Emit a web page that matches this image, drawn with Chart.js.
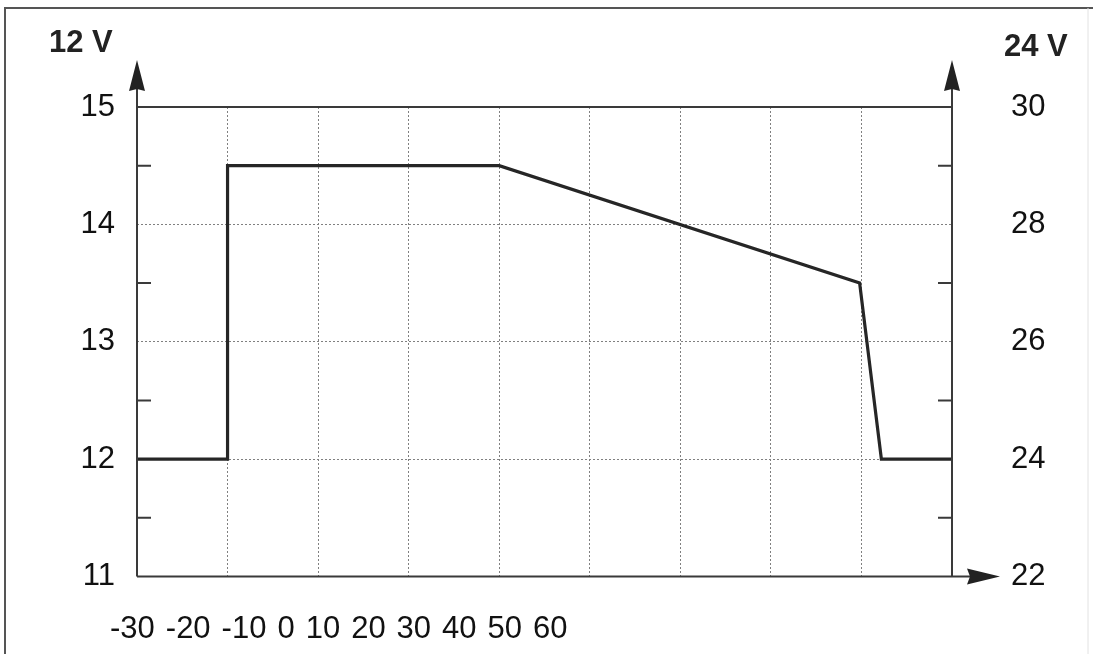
<!DOCTYPE html>
<html>
<head>
<meta charset="utf-8">
<script src="https://cdn.jsdelivr.net/npm/chart.js@4.4.0/dist/chart.umd.min.js"></script>
<style>
html, body { margin: 0; padding: 0; background: #fff; }
#wrap { width: 1093px; height: 654px; position: relative; }
</style>
</head>
<body>
<div id="wrap"><canvas id="chart"></canvas></div>
<script>
// temperature (deg C) vs charge voltage
const tempC = [-30, -20, -20, 10, 49.8, 52.2, 60];
const volt12 = [12, 12, 14.5, 14.5, 13.5, 12, 12];

const xTickLabels = ['-30', '-20', '-10', '0', '10', '20', '30', '40', '50', '60'];
const leftTicks = [11, 12, 13, 14, 15];
const rightTicks = [22, 24, 26, 28, 30];
const minorTicks = [11.5, 12.5, 13.5, 14.5];
const leftTitle = '12 V';
const rightTitle = '24 V';

const FONT = "'Liberation Sans', Arial, sans-serif";
const INK = '#222';
const AXIS = '#3a3a3a';

// axes, arrows, minor ticks, titles and the odd x label row
const decorPlugin = {
    id: 'decor',
    afterDraw(chart) {
        const ctx = chart.ctx;
        const x = chart.scales.x, y = chart.scales.y;
        const left = x.getPixelForValue(x.min);
        const right = x.getPixelForValue(x.max);
        const bottom = y.getPixelForValue(y.min);
        const top = y.getPixelForValue(y.max);
        ctx.save();

        // frame round the picture
        ctx.strokeStyle = '#555';
        ctx.lineWidth = 2;
        ctx.beginPath();
        ctx.moveTo(5, 654);
        ctx.lineTo(5, 8);
        ctx.lineTo(1093, 8);
        ctx.stroke();
        ctx.strokeStyle = '#e2e2e2';
        ctx.lineWidth = 1;
        ctx.beginPath();
        ctx.moveTo(1088, 8);
        ctx.lineTo(1088, 654);
        ctx.stroke();

        ctx.strokeStyle = AXIS;
        ctx.fillStyle = INK;
        ctx.lineWidth = 2;
        ctx.beginPath();
        // left and right vertical axes
        ctx.moveTo(left, 88); ctx.lineTo(left, bottom);
        ctx.moveTo(right, 88); ctx.lineTo(right, bottom);
        // bottom axis, running out to the arrow
        ctx.moveTo(left, bottom); ctx.lineTo(972, bottom);
        // top line at 15
        ctx.moveTo(left, top); ctx.lineTo(right, top);
        // minor ticks pointing inward
        minorTicks.forEach(v => {
            const py = y.getPixelForValue(v);
            ctx.moveTo(left, py); ctx.lineTo(left + 14, py);
            ctx.moveTo(right, py); ctx.lineTo(right - 14, py);
        });
        ctx.stroke();

        // arrow heads
        const arrowUp = (ax) => {
            ctx.beginPath();
            ctx.moveTo(ax, 60);
            ctx.lineTo(ax + 8, 91);
            ctx.lineTo(ax, 89);
            ctx.lineTo(ax - 8, 91);
            ctx.closePath();
            ctx.fill();
        };
        arrowUp(left);
        arrowUp(right);
        ctx.beginPath();
        ctx.moveTo(1000, bottom);
        ctx.lineTo(967, bottom - 8);
        ctx.lineTo(970, bottom);
        ctx.lineTo(967, bottom + 8);
        ctx.closePath();
        ctx.fill();

        // axis titles
        ctx.font = 'bold 31px ' + FONT;
        ctx.textAlign = 'left';
        ctx.textBaseline = 'alphabetic';
        ctx.fillText(leftTitle, 49, 52);
        ctx.fillText(rightTitle, 1004, 56);

        // x labels as one row under the axis
        ctx.font = '31px ' + FONT;
        ctx.fillStyle = '#111';
        let tx = 110;
        xTickLabels.forEach(lab => {
            ctx.fillText(lab, tx, 638);
            tx += ctx.measureText(lab).width + 11;
        });
        ctx.restore();
    }
};

const gridColor = (edges) => (c) =>
    (c.tick && edges.includes(c.tick.value)) ? 'rgba(0,0,0,0)' : '#808080';

new Chart(document.getElementById('chart'), {
    type: 'line',
    data: {
        datasets: [{
            data: tempC.map((t, i) => ({x: t, y: volt12[i]})),
            borderColor: '#262626',
            borderWidth: 3.2,
            pointRadius: 0,
            tension: 0,
            fill: false,
            yAxisID: 'y'
        }]
    },
    options: {
        responsive: true,
        maintainAspectRatio: false,
        animation: false,
        devicePixelRatio: 1,
        layout: {padding: {top: 107, left: 0, right: 0, bottom: 0}},
        plugins: {legend: {display: false}, tooltip: {enabled: false}},
        scales: {
            x: {
                type: 'linear',
                min: -30, max: 60,
                afterFit: s => { s.height = 654 - 577; },
                afterBuildTicks: s => { s.ticks = xTickLabels.map(v => ({value: Number(v)})); },
                ticks: {display: false},
                border: {display: false, dash: [2, 2]},
                grid: {drawTicks: false, lineWidth: 1, color: gridColor([-30, 60])}
            },
            y: {
                position: 'left',
                min: 11, max: 15,
                afterFit: s => { s.width = 137; },
                afterBuildTicks: s => { s.ticks = leftTicks.map(v => ({value: v})); },
                ticks: {padding: 22, color: '#111', font: {family: FONT, size: 31}},
                border: {display: false, dash: [2, 2]},
                grid: {drawTicks: false, lineWidth: 1, color: gridColor([11, 15])}
            },
            y2: {
                position: 'right',
                min: 22, max: 30,
                afterFit: s => { s.width = 1093 - 952; },
                afterBuildTicks: s => { s.ticks = rightTicks.map(v => ({value: v})); },
                ticks: {padding: 59, color: '#111', font: {family: FONT, size: 31}},
                border: {display: false},
                grid: {display: false, drawTicks: false}
            }
        }
    },
    plugins: [decorPlugin]
});
</script>
</body>
</html>
